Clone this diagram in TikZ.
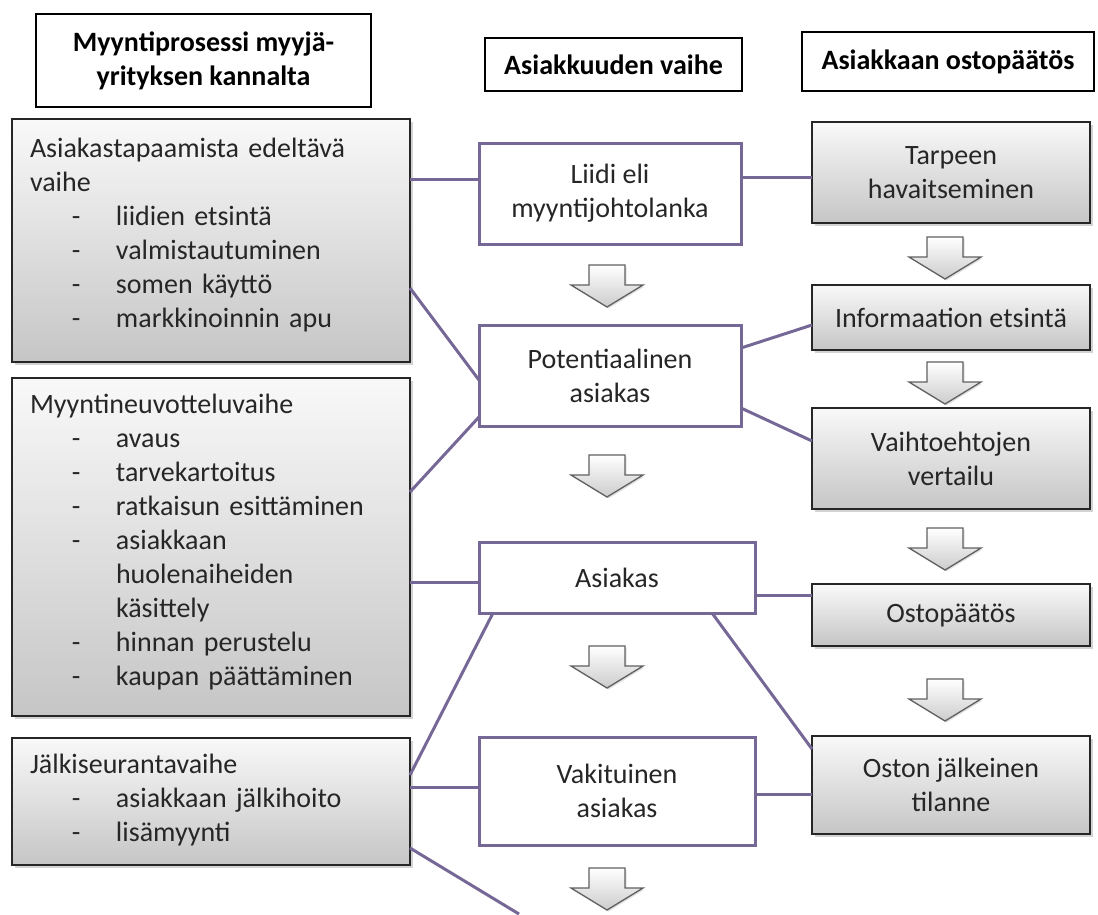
\documentclass[tikz,border=0pt]{standalone}
\usepackage{fontspec}
\setmainfont{Carlito}
\usetikzlibrary{calc,shadows}
\definecolor{conn}{RGB}{118,104,150}
\definecolor{txt}{RGB}{38,38,38}
\newcommand\itm{\makebox[86pt][l]{\hspace{42pt}-}}
\newcommand\itc{\hspace*{86pt}}
\tikzset{
  every node/.style={inner sep=0pt, outer sep=0pt},
  bodyfont/.style={font=\fontsize{28}{34}\selectfont},
  hdr/.style={draw=black, line width=1.8pt, fill=white, anchor=north west,
    font=\fontsize{28}{34}\selectfont\bfseries, align=center, text=black},
  gbox/.style={draw=black!85, line width=1.8pt, top color=gray!5, bottom color=gray!45,
    anchor=north west, drop shadow={shadow xshift=2.5pt, shadow yshift=-2.5pt, opacity=0.35},
    font=\fontsize{28}{34}\selectfont, align=center, text=txt},
  mbox/.style={draw=conn, line width=3pt, fill=white, anchor=north west,
    font=\fontsize{28}{34}\selectfont, align=center, text=txt},
  cline/.style={draw=conn, line width=3pt},
  ltext/.style={anchor=base west, text width=380pt, align=left,
    font=\fontsize{28}{34}\selectfont, text=txt},
  arr/.style={draw=gray!75!black, line width=1.3pt, top color=white, bottom color=gray!40,
    drop shadow={shadow xshift=1.5pt, shadow yshift=-1.5pt, opacity=0.25}},
  darrow/.pic={\path[arr] (-18,0) -- (18,0) -- (18,20) -- (36,20) -- (0,42) -- (-36,20) -- (-18,20) -- cycle;}
}
\begin{document}
\begin{tikzpicture}[x=1pt,y=-1pt]
\useasboundingbox (0,0) rectangle (1098,914);
% headers
\node[hdr, minimum width=335pt, minimum height=93pt] (H1) at (36,14) {Myyntiprosessi myyjä-\\yrityksen kannalta};
\node[hdr, minimum width=257pt, minimum height=53pt] (H2) at (485,38) {Asiakkuuden vaihe};
\node[hdr, minimum width=292pt, minimum height=59pt] (H3) at (802,32) {Asiakkaan ostopäätös};
% left boxes
\node[gbox, minimum width=398pt, minimum height=243pt] (L1) at (12,119) {};
\node[gbox, minimum width=398pt, minimum height=338pt] (L2) at (12,378) {};
\node[gbox, minimum width=398pt, minimum height=127pt] (L3) at (12,738) {};
\node[ltext] (T1) at ($(L1.north west)+(18,38)$) {Asiakastapaamista edeltävä\\vaihe\\\itm liidien etsintä\\\itm valmistautuminen\\\itm somen käyttö\\\itm markkinoinnin apu};
\node[ltext] (T2) at ($(L2.north west)+(18,35)$) {Myyntineuvotteluvaihe\\\itm avaus\\\itm tarvekartoitus\\\itm ratkaisun esittäminen\\\itm asiakkaan\\\itc huolenaiheiden\\\itc käsittely\\\itm hinnan perustelu\\\itm kaupan päättäminen};
\node[ltext] (T3) at ($(L3.north west)+(18,35)$) {Jälkiseurantavaihe\\\itm asiakkaan jälkihoito\\\itm lisämyynti};
% middle boxes
\node[mbox, minimum width=262pt, minimum height=101pt] (M1) at (479,143) {Liidi eli\\myyntijohtolanka};
\node[mbox, minimum width=262pt, minimum height=101pt] (M2) at (479,325) {Potentiaalinen\\asiakas};
\node[mbox, minimum width=276pt, minimum height=71pt] (M3) at (479,542) {Asiakas};
\node[mbox, minimum width=276pt, minimum height=108pt] (M4) at (479,737) {Vakituinen\\asiakas};
% right boxes
\node[gbox, minimum width=278pt, minimum height=101pt] (R1) at (812,122) {Tarpeen\\havaitseminen};
\node[gbox, minimum width=278pt, minimum height=65pt] (R2) at (812,285) {Informaation etsintä};
\node[gbox, minimum width=278pt, minimum height=101pt] (R3) at (812,408) {Vaihtoehtojen\\vertailu};
\node[gbox, minimum width=278pt, minimum height=62pt] (R4) at (812,584) {Ostopäätös};
\node[gbox, minimum width=278pt, minimum height=98pt] (R5) at (812,736) {Oston jälkeinen\\tilanne};
% block arrows
\pic (A1) at (607,265) {darrow};
\pic (A2) at (607,455) {darrow};
\pic (A3) at (607,646) {darrow};
\pic (A4) at (607,868) {darrow};
\pic (B1) at (945,237) {darrow};
\pic (B2) at (945,362) {darrow};
\pic (B3) at (945,528) {darrow};
\pic (B4) at (945,679) {darrow};
% connectors
\coordinate (E) at (519,914);
\draw[cline] ($(L1.north east)+(0,60)$) -- ($(M1.north west)+(0,36)$);
\draw[cline] ($(M1.north east)+(0,34)$) -- ($(R1.north west)+(0,55)$);
\draw[cline] ($(L1.north east)+(0,169)$) -- ($(M2.north west)+(0,55)$);
\draw[cline] ($(L2.north east)+(0,114)$) -- ($(M2.south west)+(0,-9)$);
\draw[cline] ($(M2.north east)+(0,23)$) -- ($(R2.north west)+(0,40)$);
\draw[cline] ($(M2.north east)+(0,83)$) -- ($(R3.north west)+(0,33)$);
\draw[cline] ($(L2.north east)+(0,204)$) -- ($(M3.north west)+(0,40)$);
\draw[cline] ($(M3.north east)+(0,53)$) -- ($(R4.north west)+(0,11)$);
\draw[cline] ($(L3.north east)+(0,37)$) -- ($(M3.south west)+(14,0)$);
\draw[cline] ($(M3.south east)+(-43,0)$) -- ($(R5.north west)+(0,13)$);
\draw[cline] ($(L3.north east)+(0,49)$) -- ($(M4.north west)+(0,50)$);
\draw[cline] ($(M4.north east)+(0,57)$) -- ($(R5.north west)+(0,58)$);
\draw[cline] ($(L3.south east)+(0,-17)$) -- (E);
\end{tikzpicture}
\end{document}
